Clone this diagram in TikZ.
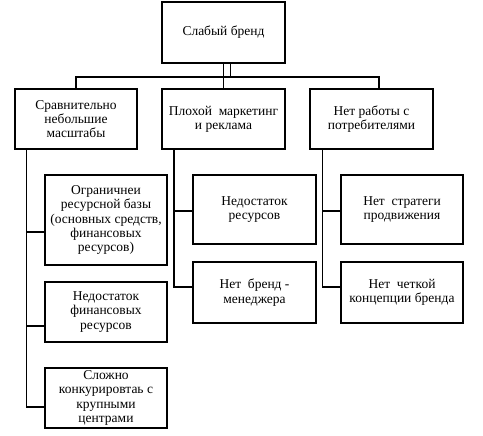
\documentclass[tikz,border=0pt]{standalone}
\usepackage{fontspec}
\setmainfont{Liberation Serif}
\newfontfamily\boxfont{Liberation Serif}
\begin{document}
\begin{tikzpicture}[x=1pt,y=-1pt,
  box/.style={draw,line width=1.2pt,align=center,inner sep=1pt,font=\boxfont\fontsize{13.5}{14.3}\selectfont},
  conn/.style={line width=1.2pt}]
\useasboundingbox (0,0) rectangle (483,436);
\node[box,minimum width=123pt,minimum height=61pt] (top) at (223.5,32.5) {Слабый бренд};
\node[box,minimum width=122pt,minimum height=60pt] (l1) at (76,119) {Сравнительно\\небольшие\\масштабы};
\node[box,minimum width=123pt,minimum height=60pt] (l2) at (223.5,119) {Плохой\ \ маркетинг\\и реклама};
\node[box,minimum width=123pt,minimum height=60pt] (l3) at (371.5,119) {Нет работы с\\потребителями};
\node[box,minimum width=122pt,minimum height=90pt] (a1) at (106,220) {Ограничнеи\\ресурсной базы\\(основных средств,\\финансовых\\ресурсов)};
\node[box,minimum width=122pt,minimum height=60pt] (a2) at (106,312) {Недостаток\\финансовых\\ресурсов};
\node[box,minimum width=122pt,minimum height=60pt] (a3) at (106,398) {Сложно\\конкурировтаь с\\крупными\\центрами};
\node[box,minimum width=123pt,minimum height=69pt] (b1) at (254.5,209.5) {Недостаток\\ресурсов};
\node[box,minimum width=123pt,minimum height=61pt] (b2) at (254.5,292.5) {Нет\ \ бренд -\\менеджера};
\node[box,minimum width=122pt,minimum height=69pt] (c1) at (402,209.5) {Нет\ \ стратеги\\продвижения};
\node[box,minimum width=122pt,minimum height=61pt] (c2) at (402,292.5) {Нет\ \ четкой\\концепции бренда};
\coordinate (j) at (230.5,77);
\draw[conn] (top.south) -- (l2.north);
\draw[conn] ([xshift=7pt]top.south) -- (j);
\draw[conn] (l1.north) |- (j);
\draw[conn] ([xshift=7.5pt]l3.north) |- (j);
\draw[conn] ([xshift=12pt]l1.south west) |- ([yshift=-12pt]a1.west);
\draw[conn] ([xshift=12pt]l1.south west) |- ([yshift=-14pt]a2.west);
\draw[conn] ([xshift=12pt]l1.south west) |- ([yshift=-9pt]a3.west);
\draw[conn] ([xshift=12.5pt]l2.south west) |- ([yshift=-1.5pt]b1.west);
\draw[conn] ([xshift=12.5pt]l2.south west) |- ([yshift=5.5pt]b2.west);
\draw[conn] ([xshift=13pt]l3.south west) |- ([yshift=-1.5pt]c1.west);
\draw[conn] ([xshift=13pt]l3.south west) |- ([yshift=5.5pt]c2.west);
\end{tikzpicture}
\end{document}
